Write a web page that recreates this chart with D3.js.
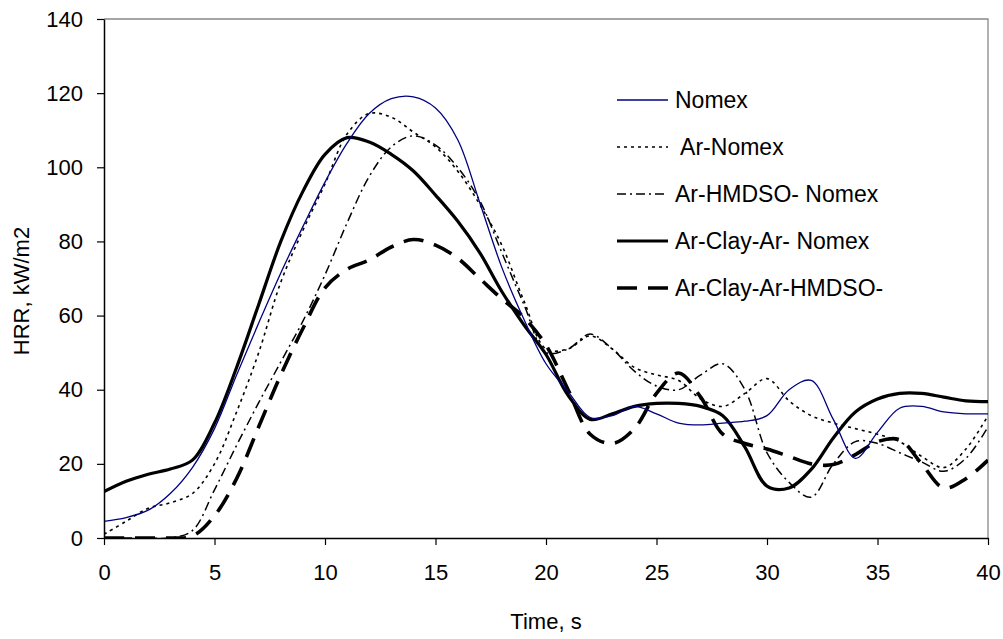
<!DOCTYPE html>
<html>
<head>
<meta charset="utf-8">
<script src="https://cdn.jsdelivr.net/npm/d3@7"></script>
<style>
  body { margin: 0; background: #fff; }
  text { font-family: Arial, "Liberation Sans", sans-serif; fill: #000; }
</style>
</head>
<body>
<div id="chart"></div>
<script>
const width = 1003;
const height = 639;

// time axis, s
const time = [0, 1, 2, 3, 4, 5, 6, 7, 8, 9, 10, 11, 12, 13, 14, 15, 16, 17, 18, 19, 20,
              21, 22, 23, 24, 25, 26, 27, 28, 29, 30, 31, 32, 33, 34, 35, 36, 37, 38, 39, 40];

// HRR values, kW/m2
const nomex = [4.5, 5.5, 7.5, 12, 19, 29.5, 44, 58, 71.5, 84, 96, 106.5, 114.5, 118.5, 119, 116, 107.5, 90.5, 73, 59, 47,
               39.5, 32.5, 33, 35.5, 33.5, 31, 30.5, 31, 31.5, 33, 40, 42.5, 32, 21.5, 28.5, 35, 35.5, 34, 33.5, 33.5];
const arNomex = [1, 4.5, 8, 9.5, 12, 20, 34, 50, 69, 83, 95.5, 109, 114.5, 113.5, 109.5, 105.5, 99, 90, 79, 64, 51,
                 51, 54.5, 51, 46, 44, 42.5, 37.5, 35.5, 39, 43, 37, 33, 31, 29.5, 28, 26, 22, 19, 24, 33];
const arHmdso = [0, 0, 0, 0, 2, 13, 25, 36.5, 47.5, 58.5, 71, 85, 97.5, 105.5, 108.5, 106, 100, 91, 77, 63, 50,
                 51, 55, 51, 45, 41, 40, 44, 47, 40, 23, 15, 11, 20, 26, 25.5, 23, 20.5, 18, 21.5, 30];
const arClayArNomex = [12.5, 15.3, 17.2, 18.6, 21, 31, 46, 63, 80, 93.5, 103.5, 108, 106.8, 103.5, 99, 92.5, 85.5, 77, 66.5, 57.5, 49.5,
                       38.5, 32, 33.5, 35.5, 36.3, 36.3, 35.5, 33, 24.5, 14, 13.5, 18.5, 27, 34, 37.5, 39, 39, 38, 37, 36.8];
const arClayArHmdso = [0, 0, 0, 0, 0.5, 6, 16, 30, 44, 56.5, 67.5, 72.5, 75, 78.5, 80.5, 79, 75.5, 70, 64.5, 59.5, 52,
                       40, 28, 25.5, 29.5, 39, 44.5, 38, 28, 25.5, 24, 22, 20, 19.8, 22.5, 26, 26.5, 20, 13.5, 16, 21];

const seriesNames = ["Nomex", " Ar-Nomex", "Ar-HMDSO- Nomex", "Ar-Clay-Ar- Nomex", "Ar-Clay-Ar-HMDSO-"];
const seriesValues = [nomex, arNomex, arHmdso, arClayArNomex, arClayArHmdso];

const xTicks = [0, 5, 10, 15, 20, 25, 30, 35, 40];
const yTicks = [0, 20, 40, 60, 80, 100, 120, 140];

// line styles, one per series
const styles = [
  { stroke: "#000080", width: 1.3, dash: null },
  { stroke: "#000", width: 1.6, dash: "3,4" },
  { stroke: "#000", width: 1.5, dash: "9,4,2,4" },
  { stroke: "#000", width: 3.2, dash: null },
  { stroke: "#000", width: 3.6, dash: "20,11" }
];

const plot = { left: 104, right: 988, top: 19, bottom: 538 };

const x = d3.scaleLinear().domain([0, 40]).range([plot.left, plot.right]);
const y = d3.scaleLinear().domain([0, 140]).range([plot.bottom, plot.top]);

const svg = d3.select("#chart")
  .append("svg")
  .attr("width", width)
  .attr("height", height)
  .attr("viewBox", [0, 0, width, height]);

// top and right frame lines
svg.append("path")
  .attr("fill", "none")
  .attr("stroke", "#888")
  .attr("stroke-width", 1.3)
  .attr("d", `M${plot.left},${plot.top}H${plot.right}V${plot.bottom}`);

svg.append("clipPath")
  .attr("id", "clip")
  .append("rect")
  .attr("x", plot.left)
  .attr("y", plot.top - 2)
  .attr("width", plot.right - plot.left)
  .attr("height", plot.bottom - plot.top + 2);

const line = d3.line()
  .x(d => x(d[0]))
  .y(d => y(d[1]))
  .curve(d3.curveCatmullRom.alpha(0.5));

const lines = svg.append("g").attr("clip-path", "url(#clip)");

// draw heavier lines first so thin ones stay visible
[4, 3, 2, 1, 0].forEach(i => {
  lines.append("path")
    .datum(time.map((t, j) => [t, seriesValues[i][j]]))
    .attr("fill", "none")
    .attr("stroke", styles[i].stroke)
    .attr("stroke-width", styles[i].width)
    .attr("stroke-dasharray", styles[i].dash)
    .attr("stroke-linejoin", "round")
    .attr("d", line);
});

// axes
const xAxis = svg.append("g")
  .attr("transform", `translate(0,${plot.bottom})`)
  .call(d3.axisBottom(x).tickValues(xTicks).tickSize(7).tickPadding(19).tickSizeOuter(0));

const yAxis = svg.append("g")
  .attr("transform", `translate(${plot.left},0)`)
  .call(d3.axisLeft(y).tickValues(yTicks).tickSize(7).tickPadding(14).tickSizeOuter(0));

[xAxis, yAxis].forEach(a => {
  a.select(".domain").attr("stroke", "#000").attr("stroke-width", 1.5);
  a.selectAll(".tick line").attr("stroke", "#000").attr("stroke-width", 1.2);
  a.selectAll(".tick text").attr("font-size", 22).attr("font-family", "Arial, 'Liberation Sans', sans-serif");
});

// axis titles
svg.append("text")
  .attr("x", (plot.left + plot.right) / 2)
  .attr("y", 629)
  .attr("text-anchor", "middle")
  .attr("font-size", 22)
  .text("Time, s");

svg.append("text")
  .attr("transform", "translate(29,291) rotate(-90)")
  .attr("text-anchor", "middle")
  .attr("font-size", 22)
  .text("HRR, kW/m2");

// legend
const legend = svg.append("g");
const legendY = d3.scalePoint().domain(seriesNames).range([100, 288]);

seriesNames.forEach((name, i) => {
  const ly = legendY(name);
  legend.append("line")
    .attr("x1", 617).attr("x2", 668)
    .attr("y1", ly).attr("y2", ly)
    .attr("stroke", styles[i].stroke)
    .attr("stroke-width", styles[i].width)
    .attr("stroke-dasharray", styles[i].dash);
  legend.append("text")
    .attr("x", 675)
    .attr("y", ly)
    .attr("dy", "0.36em")
    .attr("font-size", 23)
    .style("white-space", "pre")
    .text(name);
});
</script>
</body>
</html>
